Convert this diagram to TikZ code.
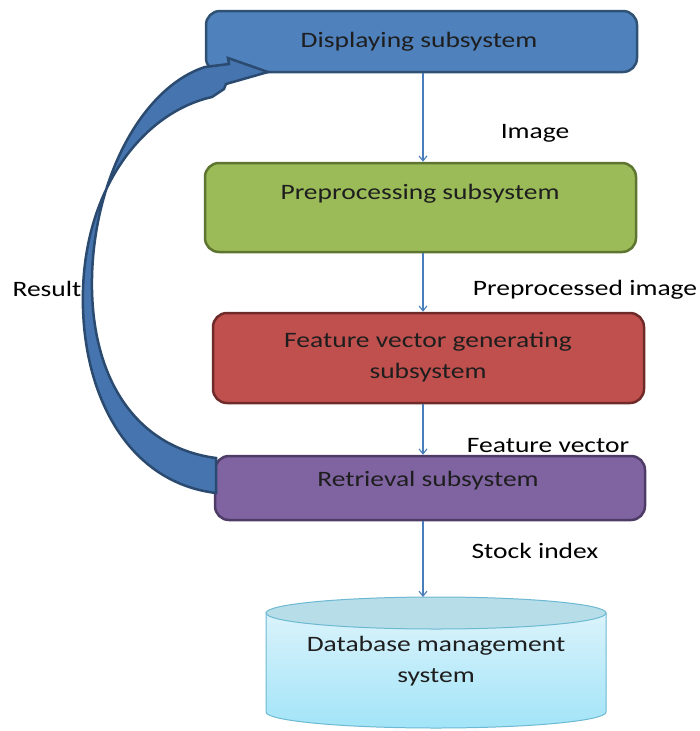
\documentclass[tikz,border=0pt]{standalone}
\usepackage{fontspec}
\setmainfont{Carlito}[FakeStretch=1.25]
\usetikzlibrary{arrows.meta}
\definecolor{dispfill}{HTML}{4F81BD}
\definecolor{dispdraw}{HTML}{2F5173}
\definecolor{prefill}{HTML}{9BBB59}
\definecolor{predraw}{HTML}{5E7530}
\definecolor{featfill}{HTML}{C0504D}
\definecolor{featdraw}{HTML}{6E2B29}
\definecolor{retfill}{HTML}{8064A2}
\definecolor{retdraw}{HTML}{4E3B66}
\definecolor{flowcol}{HTML}{4A7EBB}
\definecolor{dbtop}{HTML}{B7DEE8}
\definecolor{dbhi}{HTML}{DAF3FB}
\definecolor{dblo}{HTML}{A2E4F8}
\definecolor{dbline}{HTML}{6DB9D2}
\definecolor{arrfill}{HTML}{4674AE}
\definecolor{arrdraw}{HTML}{2A4A70}
\definecolor{txt}{HTML}{1E1E1E}
\begin{document}
\begin{tikzpicture}[x=1pt,y=-1pt,
  box/.style={draw, line width=2.5pt, rounded corners=14pt, inner sep=0pt},
  boxtext/.style={text=txt, font=\fontsize{22}{31}\selectfont, align=center, inner sep=0pt},
  lbl/.style={text=black, font=\fontsize{22}{26}\selectfont, inner sep=0pt},
  flow/.style={draw=flowcol, line width=1.1pt, -{Straight Barb[length=5pt,width=8pt]}}]
\useasboundingbox (0,0) rectangle (699,731);
\coordinate (ax) at (423,0);
% boxes
\node[box, fill=dispfill, draw=dispdraw, minimum width=431pt, minimum height=61pt] (disp) at (421.5,41.5) {};
\node[boxtext] (disptxt) at (419,42) {Displaying subsystem};
\node[box, fill=prefill, draw=predraw, minimum width=431pt, minimum height=89pt] (pre) at (420.5,207.5) {};
\node[boxtext] (pretxt) at (420,194) {Preprocessing subsystem};
\node[box, fill=featfill, draw=featdraw, minimum width=431pt, minimum height=90pt] (feat) at (428.5,358) {};
\node[boxtext] (feattxt) at (428,357) {Feature vector generating\\subsystem};
\node[box, fill=retfill, draw=retdraw, minimum width=430pt, minimum height=64pt] (ret) at (430,488) {};
\node[boxtext] (rettxt) at (428,481) {Retrieval subsystem};
% database cylinder
\path[top color=dbhi, bottom color=dblo, draw=dbline, line width=1pt]
  (266,613) -- (266,712) arc[start angle=180, end angle=0, x radius=170, y radius=16] -- (606,613) -- cycle;
\draw[fill=dbtop, draw=dbline, line width=1pt] (436,613) ellipse[x radius=170, y radius=16];
\coordinate (dbtopc) at (423,597);
\node[boxtext] (dbtxt) at (436,661) {Database management\\system};
% flows
\draw[flow] (disp.south -| ax) -- (pre.north -| ax);
\draw[flow] (pre.south -| ax) -- (feat.north -| ax);
\draw[flow] (feat.south -| ax) -- (ret.north -| ax);
\draw[flow] (ret.south -| ax) -- (dbtopc);
% labels
\node[lbl] (l1) at (535,133) {Image};
\node[lbl] (l2) at (585,290) {Preprocessed image};
\node[lbl] (l3) at (548,446) {Feature vector};
\node[lbl] (l4) at (535,551) {Stock index};
\node[lbl] (l5) at (47,289) {Result};
% curved block arrow
\draw[fill=arrfill, draw=arrdraw, line width=2.5pt, line join=miter]
  (216,493) .. controls (125,482) and (80,390) .. (83,290)
  .. controls (86,185) and (145,112) .. (212,97)
  -- (224,89) -- (226,84) -- (268,72) -- (228,58) -- (229,64) -- (205,67)
  .. controls (140,88) and (90,185) .. (92,290)
  .. controls (94,385) and (140,448) .. (216,458) -- cycle;
\end{tikzpicture}
\end{document}
